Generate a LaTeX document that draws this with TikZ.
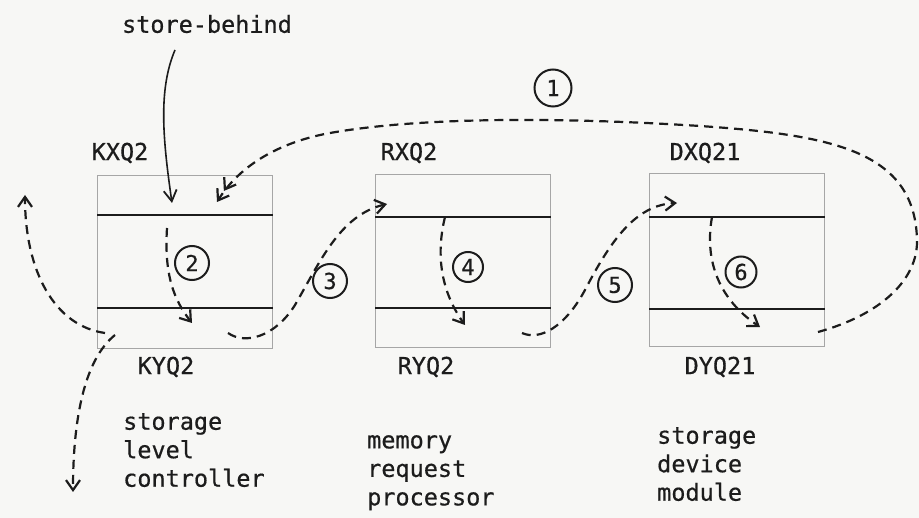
\documentclass[tikz,border=0pt]{standalone}
\usepackage{fontspec}
\newfontfamily\labfont[FakeBold=0.6]{DejaVu Sans Mono}
\usepackage{tikz}
\usetikzlibrary{positioning,arrows.meta,calc}
\definecolor{ink}{RGB}{28,28,28}
\definecolor{paper}{RGB}{247,247,245}

\begin{document}
\begin{tikzpicture}[x=1pt, y=-1pt,
  font=\labfont\fontsize{23.5}{28.5}\selectfont,
  queue/.style={draw=black!35, line width=0.9pt, minimum width=175pt, minimum height=173pt, inner sep=0pt},
  divider/.style={ink, line width=2.2pt},
  lbl/.style={text=ink, inner sep=0pt},
  unit/.style={text=ink, align=left, inner sep=0pt, anchor=north west},
  num/.style={circle, draw=ink, line width=2pt, minimum size=34pt, inner sep=0pt, text=ink, font=\labfont\fontsize{22}{22}\selectfont},
  flow/.style={ink, line width=2.2pt, dash pattern=on 9pt off 6pt, -{Straight Barb[length=10pt, width=14pt, line width=2.2pt]}},
  solidarr/.style={ink, line width=1.6pt, -{Straight Barb[length=11pt, width=13pt, line width=1.8pt]}}]
\fill[paper] (0,0) rectangle (919,518);
\useasboundingbox (0,0) rectangle (919,518);
% the three queue pairs
\node[queue, anchor=north west] (kxq) at (97,175) {};
\node[queue, anchor=north west] (rxq) at (375,174) {};
\node[queue, anchor=north west] (dxq) at (649,173) {};
\foreach \b/\t/\u in {kxq/40/133, rxq/43/134, dxq/44/136} {
  \draw[divider] ($(\b.north west)+(0,\t)$) -- ($(\b.north east)+(0,\t)$);
  \draw[divider] ($(\b.north west)+(0,\u)$) -- ($(\b.north east)+(0,\u)$);
}
\node[lbl] (kxqlab) at (120,153) {KXQ2};
\node[lbl] (rxqlab) at (409,153) {RXQ2};
\node[lbl] (dxqlab) at (705,153) {DXQ21};
\node[lbl] (kyqlab) at (166,367) {KYQ2};
\node[lbl] (ryqlab) at (426,367) {RYQ2};
\node[lbl] (dyqlab) at (720,367) {DYQ21};
\node[lbl] (sb) at (207,24) {store-behind};
\node[unit] (slc) at (123,413) {storage\\level\\controller};
\node[unit] (mrp) at (367,435) {memory\\request\\processor};
\node[unit] (sdm) at (657,427) {storage\\device\\module};
% step numbers
\node[num, minimum size=37pt] (n1) at (553,88) {1};
\node[num] (n2) at (192,263) {2};
\node[num] (n3) at (330,281) {3};
\node[num, minimum size=30pt] (n4) at (468,267) {4};
\node[num] (n5) at (615,285) {5};
\node[num, minimum size=31pt] (n6) at (741,272) {6};
% end points
\coordinate (sbS) at (175,50);
\coordinate (sbE) at (172,203);
\coordinate (oneS) at (818,332);
\coordinate (oneE) at (217,202);
\coordinate (twoS) at (167,228);
\coordinate (twoE) at (192,323);
\coordinate (threeS) at (228,333);
\coordinate (threeE) at (387,204);
\coordinate (fourS) at (445,217);
\coordinate (fourE) at (465,325);
\coordinate (fiveS) at (522,333);
\coordinate (fiveE) at (677,203);
\coordinate (sixS) at (712,217);
\coordinate (sixE) at (760,327);
\coordinate (upS) at (105,333);
\coordinate (upE) at (25,195);
\coordinate (dnS) at (115,335);
\coordinate (dnE) at (73,492);
% connectors
\draw[solidarr] (sbS) .. controls (158,90) and (163,140) .. (sbE);
\draw[flow, -{Straight Barb[length=10pt, width=14pt, line width=2.2pt]Straight Barb[length=10pt, width=14pt, line width=2.2pt]}]
  (oneS) .. controls (880,315) and (918,280) .. (917,240)
  .. controls (915,150) and (830,135) .. (700,126)
  .. controls (560,117) and (420,117) .. (330,133)
  .. controls (280,142) and (240,165) .. (oneE);
\draw[flow] (twoS) .. controls (164,275) and (174,300) .. (twoE);
\draw[flow] (threeS) .. controls (245,345) and (275,337) .. (295,305)
  .. controls (320,262) and (340,215) .. (threeE);
\draw[flow] (fourS) .. controls (434,262) and (445,297) .. (fourE);
\draw[flow] (fiveS) .. controls (540,341) and (565,327) .. (585,290)
  .. controls (610,242) and (635,205) .. (fiveE);
\draw[flow] (sixS) .. controls (704,262) and (720,300) .. (sixE);
\draw[flow] (upS) .. controls (55,326) and (25,272) .. (upE);
\draw[flow] (dnS) .. controls (84,360) and (73,420) .. (dnE);
\end{tikzpicture}
\end{document}
